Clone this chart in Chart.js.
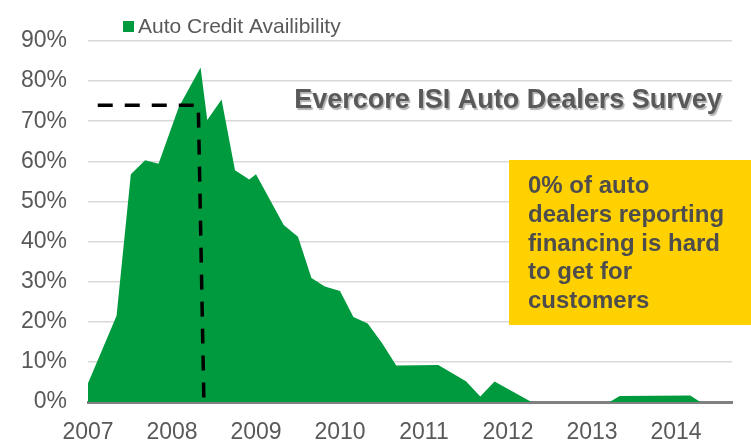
<!DOCTYPE html>
<html>
<head>
<meta charset="utf-8">
<script src="https://cdn.jsdelivr.net/npm/chart.js@4.4.1/dist/chart.umd.min.js"></script>
<style>
  html, body { margin: 0; padding: 0; background: #fff; }
</style>
</head>
<body>
<canvas id="myChart" width="751" height="447"></canvas>
<script>
"use strict";

// survey dates (decimal years) and % of dealers saying credit is hard to get
const surveyDates = [2007.0, 2007.34, 2007.51, 2007.68, 2007.84, 2008.08, 2008.34, 2008.42,
  2008.59, 2008.75, 2008.92, 2009.0, 2009.33, 2009.5, 2009.66, 2009.82, 2010.0, 2010.16,
  2010.33, 2010.5, 2010.67, 2011.17, 2011.5, 2011.67, 2011.84, 2012.28, 2013.21, 2013.33,
  2014.17, 2014.29];
const creditAvail = [4.7, 21.5, 56.8, 60.3, 59.4, 73.5, 83.4, 70.3,
  75.4, 57.8, 55.5, 56.8, 44.1, 41.2, 30.9, 28.8, 27.7, 21.2,
  19.6, 14.7, 9.1, 9.2, 5.2, 1.4, 5.1, 0, 0, 1.5,
  1.6, 0];

// the dashed marker: level at the peak period
const markerDates = [2007.116, 2008.313, 2008.38];
const markerValues = [74, 74, 0];

const yearTicks = [2007, 2008, 2009, 2010, 2011, 2012, 2013, 2014];
const seriesName = "Auto Credit Availibility";
const titleText = "Evercore ISI Auto Dealers Survey";
const noteLines = ["0% of auto", "dealers reporting", "financing is hard", "to get for", "customers"];

const green = "#009A3E";
const textGray = "#595959";
const fontFam = '"Liberation Sans", Arial, sans-serif';

const overlay = {
  id: "overlay",
  afterDraw(chart) {
    const ctx = chart.ctx;
    ctx.save();
    ctx.textBaseline = "alphabetic";

    // legend
    ctx.fillStyle = green;
    ctx.fillRect(123, 21, 11, 11);
    ctx.fillStyle = textGray;
    ctx.font = "21px " + fontFam;
    ctx.textAlign = "left";
    ctx.fillText(seriesName, 138, 33);

    // title with soft shadow
    ctx.save();
    ctx.font = "bold 27px " + fontFam;
    ctx.textAlign = "center";
    ctx.shadowColor = "rgba(0,0,0,0.3)";
    ctx.shadowOffsetX = 1.5;
    ctx.shadowOffsetY = 1.5;
    ctx.shadowBlur = 1;
    ctx.fillStyle = textGray;
    ctx.fillText(titleText, 508, 108);
    ctx.restore();

    // yellow note box
    ctx.fillStyle = "#FFD100";
    ctx.fillRect(509, 160, 242, 165);
    ctx.fillStyle = "#4D4D4D";
    ctx.font = "bold 24px " + fontFam;
    ctx.textAlign = "left";
    noteLines.forEach((t, i) => {
      ctx.fillText(t, 528, 193.3 + i * 28.6);
    });
    ctx.restore();
  }
};

const ctx = document.getElementById("myChart").getContext("2d");
const myChart = new Chart(ctx, {
  type: "line",
  data: {
    datasets: [
      {
        label: "marker",
        data: markerDates.map((d, i) => ({ x: d, y: markerValues[i] })),
        borderColor: "#000",
        borderWidth: 3.5,
        borderDash: [15, 12],
        pointRadius: 0,
        fill: false,
        order: 0
      },
      {
        label: seriesName,
        data: surveyDates.map((d, i) => ({ x: d, y: creditAvail[i] })),
        backgroundColor: green,
        borderWidth: 0,
        pointRadius: 0,
        fill: "origin",
        tension: 0,
        order: 1
      }
    ]
  },
  options: {
    responsive: false,
    animation: false,
    layout: { padding: { top: 41, right: 19, left: 0, bottom: 0 } },
    plugins: {
      legend: { display: false },
      tooltip: { enabled: false }
    },
    scales: {
      x: {
        type: "linear",
        min: 2007,
        max: 2014.667,
        afterBuildTicks: (scale) => {
          scale.ticks = yearTicks.map((v) => ({ value: v }));
        },
        afterFit: (scale) => { scale.height = 45; },
        grid: { display: false, drawTicks: false },
        border: { display: true, color: "#808080", width: 3 },
        ticks: {
          padding: 17,
          color: textGray,
          font: { family: fontFam, size: 23 },
          maxRotation: 0,
          autoSkip: false,
          callback: (v) => String(v)
        }
      },
      y: {
        min: 0,
        max: 90,
        afterFit: (scale) => { scale.width = 88; },
        grid: { color: "#d9d9d9", lineWidth: 1.5, drawTicks: false },
        border: { display: false },
        ticks: {
          stepSize: 10,
          padding: 21,
          color: textGray,
          font: { family: fontFam, size: 23 },
          callback: (v) => v + "%"
        }
      }
    }
  },
  plugins: [overlay]
});
</script>
</body>
</html>
